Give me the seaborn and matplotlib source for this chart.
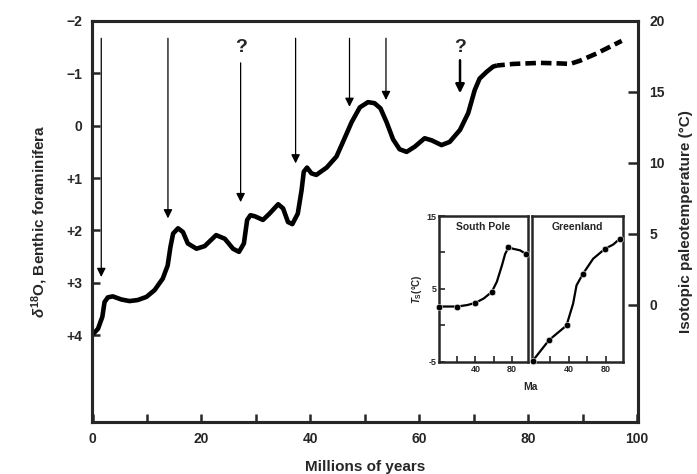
import numpy as np
import pandas as pd
import seaborn as sns
import matplotlib.pyplot as plt

# benthic record, solid part (Ma, delta 18O)
age = [0, 0.18, 1.0, 1.8, 2.2, 2.8, 3.7, 5.3, 6.8, 8.3, 9.9, 11.4, 12.9, 13.8,
       14.3, 14.8, 15.7, 16.6, 17.5, 19.1, 20.6, 22.7, 24.3, 25.8, 26.9, 27.8,
       28.4, 29.0, 29.8, 31.3, 32.5, 34.1, 35.0, 35.9, 36.7, 37.7, 38.4, 38.8,
       39.4, 40.2, 41.1, 43.0, 44.8, 46.0, 47.6, 49.1, 50.6, 51.8, 52.9, 54.0,
       55.2, 56.4, 57.7, 59.2, 61.0, 62.3, 64.1, 65.6, 67.5, 69.0, 70.2, 71.1,
       72.4, 73.6, 74.3]
d18o = [3.95, 3.97, 3.88, 3.65, 3.37, 3.28, 3.26, 3.32, 3.35, 3.33, 3.27, 3.14, 2.92, 2.67,
        2.32, 2.06, 1.96, 2.03, 2.25, 2.35, 2.30, 2.09, 2.16, 2.35, 2.41, 2.25,
        1.80, 1.71, 1.73, 1.80, 1.68, 1.50, 1.58, 1.84, 1.88, 1.68, 1.23, 0.88,
        0.80, 0.91, 0.94, 0.80, 0.59, 0.31, -0.07, -0.35, -0.45, -0.43, -0.33, -0.07,
        0.26, 0.45, 0.50, 0.40, 0.24, 0.28, 0.37, 0.31, 0.08, -0.24, -0.68, -0.90,
        -1.03, -1.13, -1.15]

# dashed (uncertain) part
age_dash = [74.3, 77.3, 82.2, 85.8, 87.7, 89.5, 92.6, 97.2]
d18o_dash = [-1.15, -1.18, -1.20, -1.19, -1.18, -1.24, -1.38, -1.62]

# arrows: age, start and tip (delta 18O units), question mark flag
arrow_age = [1.6, 13.85, 27.2, 37.3, 47.2, 53.9, 67.5]
arrow_top = [-1.67, -1.67, -1.2, -1.67, -1.67, -1.67, -1.25]
arrow_tip = [2.89, 1.77, 1.46, 0.72, -0.36, -0.49, -0.62]
arrow_q = [False, False, True, False, False, False, True]

# inset: surface temperature
sp_age = [0, 20, 40, 58, 76.4, 95.6]
sp_temp = [2.6, 2.6, 3.1, 4.6, 10.7, 9.8]
sp_curve_age = [0, 10.9, 20, 30.9, 40, 49.1, 58, 63.6, 69.1, 72.7, 76.4, 81.8, 89.1, 95.6]
sp_curve_temp = [2.6, 2.6, 2.6, 2.8, 3.1, 3.7, 4.6, 6.0, 8.2, 9.8, 10.7, 10.5, 10.3, 9.8]

gl_age = [1, 18.5, 37.5, 55, 79.3, 95.6]
gl_temp = [-4.8, -2.0, 0.0, 7.0, 10.5, 11.9]
gl_curve_age = [1, 18.5, 37.5, 44.7, 48.4, 55, 66.5, 79.3, 88.4, 95.6]
gl_curve_temp = [-4.8, -2.0, 0.0, 3.0, 5.5, 7.0, 9.15, 10.5, 11.1, 11.9]

sns.set_style("ticks")
plt.rcParams['font.family'] = ['Liberation Sans', 'DejaVu Sans']
plt.rcParams['font.weight'] = 'bold'
plt.rcParams['axes.labelweight'] = 'bold'
plt.rcParams['mathtext.fontset'] = 'custom'
plt.rcParams['mathtext.rm'] = 'Liberation Sans:bold'
plt.rcParams['mathtext.it'] = 'Liberation Sans:bold:italic'
plt.rcParams['mathtext.bf'] = 'Liberation Sans:bold'

fig = plt.figure(figsize=(6.97, 4.74), dpi=100)
ax = fig.add_axes([0.132, 0.1097, 0.7834, 0.846])

main = pd.DataFrame({'age': age, 'd18o': d18o})
dash = pd.DataFrame({'age': age_dash, 'd18o': d18o_dash})
sns.lineplot(data=main, x='age', y='d18o', color='black', lw=3.3, sort=False, ax=ax,
             solid_capstyle='butt', solid_joinstyle='round')
sns.lineplot(data=dash, x='age', y='d18o', color='black', lw=3.3, sort=False, ax=ax,
             linestyle=(0.6, (2.3, 1.1)))

for a, top, tip, q in zip(arrow_age, arrow_top, arrow_tip, arrow_q):
    lw = 1.8 if a > 60 else 0.9
    ax.annotate('', xy=(a, tip), xytext=(a, top),
                arrowprops=dict(arrowstyle='-|>', color='black', lw=lw,
                                mutation_scale=13, shrinkA=0, shrinkB=0))
    if q:
        ax.text(a, -1.5, '?', ha='center', va='center', fontsize=14)

ax.set_xlim(-0.1, 100.2)
ax.set_ylim(5.66, -2)
ax.set_xticks(range(0, 101, 10))
ax.set_xticklabels(['0', '', '20', '', '40', '', '60', '', '80', '', '100'])
ax.set_yticks(range(-2, 5))
ax.set_yticklabels(['\u22122', '\u22121', '0', '+1', '+2', '+3', '+4'])
ax.tick_params(direction='in', length=5.5, width=1.8, labelsize=10, pad=7)
ax.set_xlabel('Millions of years', fontsize=11, labelpad=10)
ax.set_ylabel(r'$\delta^{18}$O, Benthic foraminifera', fontsize=11, labelpad=12)
for s in ax.spines.values():
    s.set_linewidth(2.2)

ax2 = ax.twinx()
ax2.set_ylim(-8.24, 20)
ax2.set_yticks([0, 5, 10, 15, 20])
ax2.tick_params(direction='in', length=7, width=1.8, labelsize=10, pad=8)
ax2.set_ylabel('Isotopic paleotemperature (°C)', fontsize=11, labelpad=10)
for s in ax2.spines.values():
    s.set_linewidth(2.2)

# inset panels
sp = fig.add_axes([0.630, 0.2363, 0.1277, 0.308])
gl = fig.add_axes([0.7633, 0.2363, 0.1306, 0.308])

sns.lineplot(x=sp_curve_age, y=sp_curve_temp, color='black', lw=1.6, sort=False, ax=sp)
sns.scatterplot(x=sp_age, y=sp_temp, color='black', s=22, ax=sp, clip_on=False, zorder=3)
sns.lineplot(x=gl_curve_age, y=gl_curve_temp, color='black', lw=1.6, sort=False, ax=gl)
sns.scatterplot(x=gl_age, y=gl_temp, color='black', s=22, ax=gl, clip_on=False, zorder=3)

for p, name, xmax in [(sp, 'South Pole', 98), (gl, 'Greenland', 99)]:
    p.set_xlim(0, xmax)
    p.set_ylim(-5, 15)
    p.set_xticks([20, 40, 60, 80])
    p.set_xticklabels(['', '40', '', '80'])
    p.tick_params(direction='in', length=4, width=1.2, labelsize=6.5, pad=2)
    p.set_xlabel('')
    p.set_ylabel('')
    for s in p.spines.values():
        s.set_linewidth(1.8)
    p.text(0.5, 0.96, name, transform=p.transAxes, ha='center', va='top', fontsize=7.5)

sp.set_yticks([-5, 0, 5, 10, 15])
sp.set_yticklabels(['-5', '', '5', '', '15'])
sp.set_ylabel('$T_\\mathrm{S}$(°C)', fontsize=7, labelpad=2)
gl.set_yticks([])
fig.text(531 / 697, 1 - 387 / 474, 'Ma', ha='center', va='center', fontsize=7.5)

fig.savefig('out.png', dpi=100)
